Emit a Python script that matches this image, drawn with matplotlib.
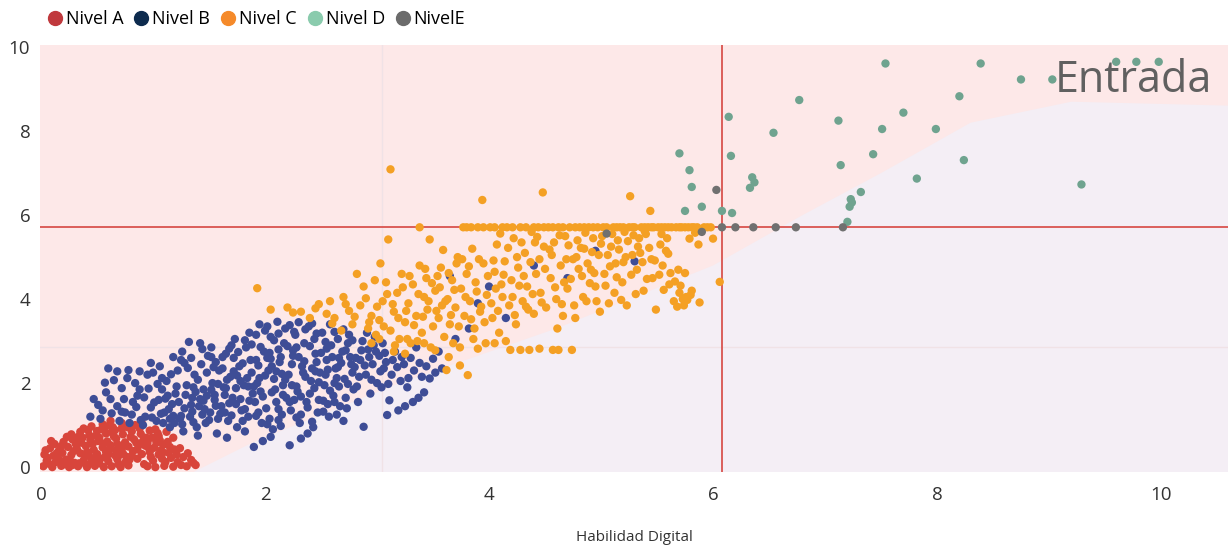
import matplotlib
matplotlib.use("Agg")
import matplotlib.pyplot as plt
from matplotlib.lines import Line2D

plt.rcParams['font.family'] = ['Open Sans', 'DejaVu Sans']

# (x, y) points, one list per level
nivel_a = [
    (0.02, 0.02), (0.10, 0.00), (0.18, 0.03), (0.25, 0.00), (0.33, 0.02), (0.41, 0.00), (0.48, 0.03), (0.56, 0.00),
    (0.63, 0.02), (0.71, 0.00), (0.78, 0.04), (0.95, 0.02), (1.02, 0.00), (1.10, 0.03), (1.18, 0.01), (1.30, 0.02),
    (1.38, 0.05), (0.05, 0.15), (0.13, 0.12), (0.22, 0.18), (0.30, 0.10), (0.38, 0.16), (0.45, 0.12), (0.53, 0.20),
    (0.60, 0.14), (0.68, 0.19), (0.75, 0.11), (1.00, 0.15), (1.08, 0.20), (1.22, 0.12), (1.34, 0.17), (1.27, 0.24),
    (0.03, 0.30), (0.11, 0.27), (0.19, 0.34), (0.27, 0.29), (0.35, 0.33), (0.43, 0.26), (0.50, 0.31), (0.58, 0.36),
    (0.66, 0.28), (0.73, 0.33), (0.81, 0.27), (0.90, 0.31), (0.97, 0.36), (1.05, 0.30), (1.14, 0.34), (1.19, 0.42),
    (0.08, 0.45), (0.16, 0.40), (0.24, 0.48), (0.32, 0.43), (0.40, 0.50), (0.47, 0.41), (0.55, 0.47), (0.62, 0.52),
    (0.70, 0.44), (0.78, 0.49), (0.86, 0.42), (0.93, 0.51), (1.01, 0.46), (1.09, 0.53), (0.12, 0.55), (0.20, 0.60),
    (0.28, 0.66), (0.36, 0.58), (0.44, 0.64), (0.52, 0.70), (0.59, 0.61), (0.67, 0.68), (0.75, 0.59), (0.83, 0.66),
    (0.91, 0.62), (0.99, 0.70), (1.06, 0.64), (1.13, 0.60), (0.27, 0.78), (0.35, 0.84), (0.43, 0.76), (0.50, 0.86),
    (0.58, 0.80), (0.66, 0.88), (0.73, 0.78), (0.81, 0.85), (0.89, 0.79), (0.97, 0.87), (1.04, 0.81), (0.45, 0.97),
    (0.55, 1.02), (0.64, 0.95), (0.72, 1.05), (0.80, 0.98), (0.90, 1.04), (0.62, 1.10), (0.38, 0.92),
    (0.07, 0.08), (0.15, 0.22), (0.21, 0.07), (0.29, 0.38), (0.34, 0.09), (0.39, 0.27), (0.46, 0.55), (0.52, 0.09),
    (0.57, 0.24), (0.61, 0.42), (0.65, 0.73), (0.69, 0.07), (0.74, 0.50), (0.77, 0.95), (0.82, 0.38), (0.85, 0.58),
    (0.88, 0.92), (0.92, 0.07), (0.96, 0.46), (1.03, 0.58), (1.07, 0.40), (1.11, 0.12), (1.16, 0.22), (1.21, 0.30),
    (1.25, 0.05), (1.31, 0.33), (1.36, 0.10), (0.04, 0.40), (0.09, 0.62), (0.14, 0.33), (0.18, 0.50), (0.23, 0.72),
    (0.26, 0.15), (0.31, 0.55), (0.37, 0.70), (0.42, 0.88), (0.47, 0.20), (0.51, 0.62), (0.54, 0.90), (0.60, 0.30),
    (0.63, 0.83), (0.68, 0.55), (0.72, 0.92), (0.76, 0.25), (0.80, 0.72), (0.84, 1.00), (0.87, 0.52), (0.94, 0.70),
    (0.98, 0.24), (1.02, 0.90), (1.05, 0.74), (1.09, 0.35), (1.15, 0.48), (1.18, 0.70), (1.24, 0.45), (0.33, 0.72),
    (0.41, 0.36), (0.49, 0.75), (0.56, 0.56), (0.70, 0.29), (0.79, 0.18), (0.95, 0.58), (0.06, 0.22), (0.17, 0.14),
    (0.28, 0.05), (0.40, 0.06), (1.12, 0.84), (0.58, 0.97), (0.67, 0.40), (0.86, 0.20),
]

nivel_b = [
    (0.44, 1.20), (0.51, 1.48), (0.60, 2.35), (0.65, 2.07), (0.55, 1.35), (0.62, 1.62), (0.70, 1.10), (0.58, 1.78),
    (0.68, 1.45), (0.78, 2.31), (0.75, 1.30), (0.82, 1.55), (0.88, 1.85), (0.93, 1.20), (0.79, 1.05), (0.86, 1.70),
    (0.95, 2.20), (0.98, 1.42), (0.91, 1.00), (1.00, 2.25), (0.84, 2.00), (1.03, 1.10), (1.05, 1.60), (1.08, 1.85),
    (1.10, 1.30), (1.12, 2.05), (1.15, 0.95), (1.17, 1.50), (1.20, 1.75), (1.22, 2.30), (1.24, 1.15), (1.26, 2.75),
    (1.28, 1.40), (1.30, 1.95), (1.32, 2.98), (1.13, 1.70), (1.19, 1.05), (1.27, 0.85), (1.06, 2.40), (1.25, 2.55),
    (1.33, 1.20), (1.35, 1.65), (1.37, 2.20), (1.39, 0.95), (1.41, 1.45), (1.43, 2.45), (1.45, 1.85), (1.47, 1.05),
    (1.49, 2.65), (1.51, 1.30), (1.53, 2.00), (1.55, 1.60), (1.57, 0.80), (1.59, 2.30), (1.36, 1.90), (1.44, 1.25),
    (1.52, 2.85), (1.58, 1.15), (1.40, 0.75), (1.48, 1.70), (1.56, 2.50), (1.34, 2.60), (1.61, 1.45), (1.63, 1.90),
    (1.65, 2.70), (1.67, 1.10), (1.69, 2.15), (1.71, 1.65), (1.73, 3.05), (1.75, 0.95), (1.77, 2.40), (1.79, 1.35),
    (1.81, 1.95), (1.83, 2.85), (1.85, 1.20), (1.87, 2.55), (1.89, 1.75), (1.62, 2.35), (1.66, 0.70), (1.70, 2.90),
    (1.74, 1.50), (1.78, 2.05), (1.82, 0.85), (1.86, 3.20), (1.64, 1.30), (1.72, 2.60), (1.80, 1.10), (1.88, 2.25),
    (1.90, 0.48), (1.91, 1.55), (1.93, 2.00), (1.95, 3.40), (1.97, 1.05), (1.99, 2.75), (2.01, 1.40), (2.03, 2.30),
    (2.05, 3.10), (2.07, 0.90), (2.09, 1.85), (2.11, 3.46), (2.13, 2.50), (2.15, 1.25), (2.17, 2.95), (2.19, 1.65),
    (1.92, 2.55), (1.96, 1.80), (2.00, 3.25), (2.04, 1.15), (2.08, 2.10), (2.12, 2.80), (2.16, 1.95), (1.94, 1.30),
    (2.02, 2.60), (2.10, 1.55), (2.18, 3.30), (2.14, 0.98), (2.06, 2.40), (2.21, 2.20), (2.22, 0.52), (2.23, 1.35),
    (2.25, 2.65), (2.27, 3.15), (2.29, 1.80), (2.31, 1.05), (2.33, 2.40), (2.35, 2.95), (2.37, 1.55), (2.39, 3.35),
    (2.41, 2.05), (2.43, 0.95), (2.45, 2.70), (2.47, 1.30), (2.49, 2.25), (2.24, 1.95), (2.28, 2.85), (2.32, 1.25),
    (2.36, 2.15), (2.40, 1.75), (2.44, 3.05), (2.48, 1.60), (2.30, 3.45), (2.38, 0.80), (2.46, 2.50), (2.26, 1.60),
    (2.51, 3.20), (2.53, 1.95), (2.55, 2.55), (2.57, 1.20), (2.59, 2.90), (2.61, 1.70), (2.63, 2.35), (2.65, 3.05),
    (2.67, 1.45), (2.69, 2.75), (2.71, 2.10), (2.73, 1.40), (2.75, 3.15), (2.77, 2.45), (2.79, 1.85), (2.54, 2.20),
    (2.58, 3.40), (2.62, 2.00), (2.66, 2.60), (2.70, 1.10), (2.74, 2.95), (2.78, 2.25), (2.56, 1.50), (2.64, 1.25),
    (2.72, 1.65), (2.81, 2.60), (2.83, 1.55), (2.85, 2.55), (2.87, 3.00), (2.88, 0.96), (2.90, 2.20), (2.92, 2.80),
    (2.94, 1.75), (2.96, 2.45), (2.98, 3.10), (3.00, 2.00), (3.02, 2.65), (3.04, 1.90), (3.06, 2.35), (3.09, 1.24),
    (3.11, 1.59), (2.84, 2.15), (2.91, 3.20), (2.97, 2.90), (3.05, 2.95), (3.08, 2.50), (3.13, 2.20), (3.16, 2.75),
    (3.19, 1.35), (3.21, 2.05), (3.24, 2.45), (3.27, 1.90), (3.30, 2.60), (3.33, 2.30), (3.37, 1.65), (3.40, 2.15),
    (3.44, 2.40), (3.47, 2.11), (3.52, 2.25), (3.25, 1.45), (3.35, 2.85), (3.55, 2.75), (3.90, 3.90), (4.00, 4.30),
    (4.40, 4.80), (4.15, 3.55), (3.82, 3.30), (4.70, 4.50), (5.30, 4.90), (4.95, 5.15), (3.65, 4.55), (3.70, 3.05),
    (0.47, 1.62), (0.53, 1.15), (0.57, 2.01), (0.63, 1.28), (0.72, 1.88), (0.74, 1.62), (0.77, 2.12), (0.81, 1.25),
    (0.85, 1.43), (0.89, 1.12), (0.92, 1.66), (0.96, 1.87), (0.99, 1.18), (1.01, 1.54), (1.04, 1.98), (1.07, 1.27),
    (1.09, 1.05), (1.11, 1.63), (1.14, 1.38), (1.16, 2.21), (1.18, 1.22), (1.21, 1.92), (1.23, 1.55), (1.26, 1.02),
    (1.29, 1.72), (1.31, 2.36), (1.34, 1.48), (1.36, 1.07), (1.38, 1.79), (1.40, 2.08), (1.42, 1.62), (1.44, 2.81),
    (1.46, 1.38), (1.48, 2.25), (1.50, 1.12), (1.52, 1.84), (1.54, 2.38), (1.56, 1.46), (1.58, 1.98), (1.60, 1.27),
    (1.62, 2.62), (1.64, 1.72), (1.66, 2.08), (1.68, 1.52), (1.70, 1.23), (1.72, 2.28), (1.74, 1.88), (1.76, 2.74),
    (1.78, 1.62), (1.80, 2.47), (1.82, 1.38), (1.84, 2.12), (1.86, 1.58), (1.88, 2.92), (1.90, 1.92), (1.92, 1.22),
    (1.94, 2.42), (1.96, 2.86), (1.98, 1.68), (2.00, 2.18), (2.02, 1.02), (2.04, 2.72), (2.06, 1.78), (2.08, 3.02),
    (2.10, 2.28), (2.12, 1.38), (2.14, 2.62), (2.16, 1.72), (2.18, 2.08), (2.20, 2.88), (2.22, 1.55), (2.24, 2.45),
    (2.26, 3.22), (2.28, 1.92), (2.30, 2.62), (2.32, 1.68), (2.34, 2.25), (2.36, 3.28), (2.38, 1.42), (2.40, 2.88),
    (2.42, 2.35), (2.44, 1.88), (2.46, 3.18), (2.48, 2.02), (2.50, 2.72), (2.52, 1.58), (2.54, 2.98), (2.56, 2.32),
    (2.58, 1.82), (2.60, 2.62), (2.62, 3.22), (2.64, 2.12), (2.66, 1.92), (2.68, 2.48), (2.70, 3.28), (2.72, 2.78),
    (2.74, 1.98), (2.76, 2.62), (2.78, 3.02), (2.80, 2.38), (2.82, 1.92), (2.86, 2.78), (2.89, 2.42), (2.93, 2.62),
    (2.95, 2.08), (2.99, 2.75), (3.03, 2.28), (3.07, 2.72), (3.10, 1.98), (3.14, 2.55), (3.18, 2.38), (3.22, 2.62),
    (3.28, 2.12), (3.32, 1.55), (3.38, 2.48), (3.42, 1.78), (3.50, 2.58), (3.58, 2.35), (1.95, 2.12), (2.05, 2.58),
    (2.15, 2.22), (2.25, 2.78), (2.35, 2.52), (2.45, 2.28), (2.55, 2.82), (2.65, 2.38), (1.85, 1.92), (1.75, 2.18),
    (1.65, 1.88), (1.55, 1.72), (1.45, 1.58), (1.35, 1.32), (1.25, 1.22), (1.15, 1.15), (2.12, 1.12), (2.28, 1.18),
    (2.42, 1.08), (2.05, 0.72), (1.98, 0.62), (2.32, 0.68), (2.52, 1.32), (2.62, 1.55), (2.12, 3.18), (2.22, 3.38),
    (2.42, 3.42), (2.02, 3.35), (1.92, 3.15), (1.82, 3.02), (1.68, 2.82), (1.52, 2.62), (1.42, 2.95), (1.28, 2.48),
    (1.18, 2.62), (1.08, 2.12), (0.98, 2.48), (0.88, 2.28), (0.68, 2.28), (0.72, 1.32),
]

nivel_c = [
    (1.93, 4.26), (2.05, 3.75), (2.20, 3.80), (2.32, 3.70), (2.45, 3.78), (2.55, 3.65), (2.62, 3.55), (2.70, 4.05),
    (2.78, 3.40), (2.85, 3.85), (2.92, 3.30), (2.98, 4.45), (2.40, 3.55), (2.68, 3.25), (2.88, 4.30), (2.95, 3.60),
    (2.75, 3.72), (2.58, 3.95), (2.82, 4.60), (2.99, 3.15), (3.02, 3.50), (3.05, 3.95), (3.08, 4.40), (3.10, 5.42),
    (3.12, 3.25), (3.12, 7.09), (3.15, 3.70), (3.18, 4.15), (3.20, 3.05), (3.22, 4.60), (3.25, 3.45), (3.28, 3.90),
    (3.30, 2.95), (3.32, 4.35), (3.35, 3.60), (3.38, 4.80), (3.40, 3.20), (3.42, 4.05), (3.45, 3.75), (3.47, 5.42),
    (3.48, 2.85), (3.03, 4.85), (3.27, 3.05), (3.36, 3.00), (3.44, 4.50), (3.16, 2.90), (3.50, 3.35), (3.52, 4.20),
    (3.55, 3.55), (3.57, 4.75), (3.59, 5.17), (3.60, 3.10), (3.62, 2.31), (3.63, 4.00), (3.65, 3.40), (3.67, 4.45),
    (3.70, 3.80), (3.72, 5.00), (3.74, 2.85), (3.75, 4.25), (3.77, 5.71), (3.78, 3.60), (3.80, 4.60), (3.81, 2.19),
    (3.83, 3.95), (3.85, 5.20), (3.87, 3.30), (3.88, 4.40), (3.90, 5.71), (3.92, 3.70), (3.94, 6.36), (3.95, 4.85),
    (3.97, 2.95), (3.98, 4.10), (3.58, 3.85), (3.68, 2.95), (3.76, 4.95), (3.86, 3.05), (3.96, 3.45), (3.54, 4.55),
    (4.01, 5.71), (4.03, 3.55), (4.05, 4.65), (4.07, 5.30), (4.09, 3.20), (4.10, 5.56), (4.12, 4.05), (4.14, 4.90),
    (4.16, 5.71), (4.18, 3.85), (4.19, 2.79), (4.20, 4.45), (4.22, 5.45), (4.24, 3.40), (4.26, 4.75), (4.28, 5.71),
    (4.30, 3.95), (4.32, 5.10), (4.34, 4.30), (4.36, 2.79), (4.38, 5.60), (4.40, 3.65), (4.42, 4.60), (4.44, 5.71),
    (4.46, 4.15), (4.48, 6.54), (4.49, 5.25), (4.06, 4.25), (4.15, 3.00), (4.25, 5.00), (4.35, 3.75), (4.45, 4.95),
    (4.11, 4.35), (4.31, 4.55), (4.41, 5.35), (4.02, 3.90), (4.21, 4.05), (4.51, 3.80), (4.53, 5.71), (4.55, 4.50),
    (4.57, 2.79), (4.58, 5.35), (4.60, 4.00), (4.62, 5.71), (4.64, 4.80), (4.66, 3.60), (4.68, 5.50), (4.70, 4.25),
    (4.72, 5.71), (4.74, 2.79), (4.75, 4.95), (4.77, 3.55), (4.79, 5.40), (4.81, 5.71), (4.83, 4.55), (4.85, 5.20),
    (4.87, 3.95), (4.89, 5.71), (4.91, 4.70), (4.93, 5.45), (4.95, 4.30), (4.97, 5.71), (4.99, 3.70), (4.56, 5.05),
    (4.67, 4.40), (4.78, 5.00), (4.88, 4.85), (4.98, 5.05), (4.61, 3.30), (5.01, 5.50), (5.03, 4.60), (5.05, 5.71),
    (5.07, 3.90), (5.09, 5.25), (5.11, 5.71), (5.13, 4.85), (5.15, 5.40), (5.17, 5.71), (5.19, 4.40), (5.21, 5.60),
    (5.23, 3.85), (5.25, 5.71), (5.26, 6.45), (5.28, 5.05), (5.30, 5.71), (5.32, 4.70), (5.34, 5.45), (5.36, 5.71),
    (5.38, 4.20), (5.40, 5.55), (5.42, 5.71), (5.44, 6.10), (5.45, 4.95), (5.47, 5.71), (5.49, 3.75), (5.12, 4.15),
    (5.22, 5.00), (5.35, 5.10), (5.46, 4.50), (5.51, 5.71), (5.53, 5.30), (5.55, 4.80), (5.57, 5.71), (5.59, 5.45),
    (5.61, 4.35), (5.63, 5.71), (5.65, 3.95), (5.67, 5.71), (5.69, 4.70), (5.70, 4.15), (5.72, 5.71), (5.74, 3.85),
    (5.76, 4.05), (5.78, 5.71), (5.79, 5.44), (5.81, 4.20), (5.83, 5.71), (5.86, 5.71), (5.88, 3.92), (6.00, 5.44),
    (6.06, 4.41), (5.73, 4.00), (5.58, 5.15),
    (2.25, 3.68), (2.48, 3.88), (2.60, 3.42), (2.72, 3.88), (2.80, 3.58), (2.90, 4.02), (2.93, 3.45), (3.00, 3.82),
    (3.06, 3.35), (3.09, 4.12), (3.14, 3.88), (3.19, 3.55), (3.23, 4.28), (3.26, 3.72), (3.29, 4.55), (3.33, 3.38),
    (3.37, 4.12), (3.41, 3.58), (3.43, 4.72), (3.46, 3.95), (3.49, 4.38), (3.53, 3.72), (3.56, 4.28), (3.61, 3.95),
    (3.64, 4.62), (3.66, 3.62), (3.69, 4.22), (3.71, 4.85), (3.73, 3.35), (3.79, 4.05), (3.82, 4.78), (3.84, 3.52),
    (3.89, 4.18), (3.91, 4.95), (3.93, 3.82), (3.99, 4.55), (4.04, 4.92), (4.08, 3.72), (4.13, 4.58), (4.17, 5.22),
    (4.23, 3.62), (4.27, 4.32), (4.29, 5.35), (4.33, 3.82), (4.37, 4.88), (4.39, 4.12), (4.43, 5.48), (4.47, 3.92),
    (4.50, 4.72), (4.54, 5.18), (4.59, 4.28), (4.63, 5.52), (4.65, 3.88), (4.69, 4.95), (4.71, 5.28), (4.73, 4.48),
    (4.76, 3.85), (4.80, 4.72), (4.82, 5.22), (4.84, 4.05), (4.86, 5.58), (4.90, 4.38), (4.92, 5.12), (4.94, 4.62),
    (4.96, 3.95), (5.00, 5.32), (5.04, 4.32), (5.06, 5.05), (5.08, 4.78), (5.10, 5.55), (5.14, 4.52), (5.16, 5.18),
    (5.18, 3.98), (5.20, 4.88), (5.24, 5.38), (5.27, 4.58), (5.29, 5.52), (5.31, 4.12), (5.33, 5.25), (5.37, 4.88),
    (5.39, 5.62), (5.41, 4.48), (5.43, 5.22), (5.48, 4.92), (5.52, 4.58), (5.54, 5.55), (5.56, 4.22), (5.60, 5.08),
    (5.62, 4.62), (5.66, 4.42), (5.68, 3.82), (5.71, 4.32), (5.75, 4.62), (5.77, 3.98), (5.80, 4.10), (5.84, 5.58),
    (5.87, 5.30), (5.92, 5.71), (5.95, 5.71), (5.98, 5.71), (3.80, 5.71), (3.84, 5.71), (3.95, 5.71), (4.05, 5.71),
    (4.12, 5.71), (4.21, 5.71), (4.33, 5.71), (4.40, 5.71), (4.49, 5.71), (4.57, 5.71), (4.66, 5.71), (4.77, 5.71),
    (4.85, 5.71), (4.93, 5.71), (5.02, 5.71), (5.14, 5.71), (5.20, 5.71), (5.28, 5.71), (5.39, 5.71), (5.45, 5.71),
    (5.54, 5.71), (5.60, 5.71), (5.70, 5.71), (5.75, 5.71), (5.81, 5.71), (3.38, 5.71), (3.52, 2.78), (3.64, 2.62),
    (3.74, 2.42), (3.90, 2.82), (4.05, 2.95), (4.28, 2.79), (4.45, 2.82), (4.62, 2.79), (3.42, 2.95), (3.25, 2.70),
    (3.15, 2.75), (3.02, 3.05), (2.95, 2.95),
]

nivel_d = [
    (7.54, 9.61), (8.39, 9.61), (8.75, 9.23), (9.03, 9.23), (9.60, 9.65), (9.78, 9.65), (9.98, 9.65), (6.77, 8.74),
    (6.14, 8.34), (7.12, 8.25), (7.70, 8.44), (8.20, 8.83), (6.54, 7.96), (7.51, 8.05), (7.99, 8.05), (5.70, 7.47),
    (6.16, 7.41), (7.43, 7.45), (7.14, 7.19), (8.24, 7.31), (5.79, 7.07), (5.81, 6.67), (7.82, 6.87), (9.29, 6.73),
    (6.35, 6.90), (6.37, 6.78), (6.33, 6.65), (7.32, 6.55), (7.23, 6.38), (7.24, 6.30), (7.22, 6.20), (5.90, 6.20),
    (5.75, 6.10), (6.08, 6.10), (6.17, 6.05), (7.20, 5.84),
]

nivel_e = [
    (5.05, 5.56), (6.03, 6.60), (6.08, 5.71), (6.20, 5.71), (6.36, 5.71), (6.56, 5.71), (6.74, 5.71), (7.16, 5.71),
    (5.90, 5.60),
]

levels = ["Nivel A", "Nivel B", "Nivel C", "Nivel D", "NivelE"]
legend_colors = ["#C0393D", "#0D2B4E", "#F58A2A", "#8ACBAD", "#6B6B6B"]
point_colors = ["#D8453B", "#3E4D96", "#F4A024", "#6FA38F", "#707070"]

# thresholds
cut_x = 6.08
cut_y = 5.71

# lower-right shaded region outline
region_x = [1.3, 1.9, 3.2, 4.6, 6.0, 6.8, 7.5, 8.3, 9.2, 10.7, 10.7]
region_y = [-0.2, 0.6, 2.0, 3.3, 4.8, 6.0, 7.0, 8.2, 8.7, 8.6, -0.2]

fig = plt.figure(figsize=(12.3, 5.49), dpi=100)
ax = fig.add_axes([0.0325, 0.14, 0.966, 0.778])
ax.set_facecolor("#FDE8E8")
ax.fill(region_x, region_y, color="#F4EEF5", zorder=0, lw=0)

ax.axvline(cut_x / 2, color="#F0E2E6", lw=1, zorder=1)
ax.axhline(cut_y / 2, color="#F0E2E6", lw=1, zorder=1)

for pts, col in zip([nivel_a, nivel_b, nivel_c, nivel_d, nivel_e], point_colors):
    xs, ys = zip(*pts)
    ax.scatter(xs, ys, s=36, color=col, edgecolors="none", zorder=3)

ax.axvline(cut_x, color="#D9534F", lw=1.3, zorder=2)
ax.axhline(cut_y, color="#D9534F", lw=1.3, zorder=2)

ax.text(10.46, 9.2, "Entrada", ha="right", va="center", fontsize=31, color="#606060", zorder=4)

ax.set_xlim(-0.01, 10.6)
ax.set_ylim(-0.12, 10.05)
ax.set_xticks([0, 2, 4, 6, 8, 10])
ax.set_yticks([0, 2, 4, 6, 8, 10])
ax.tick_params(length=0, labelsize=13.5, labelcolor="#333333")
ax.tick_params(axis="x", pad=10)
ax.tick_params(axis="y", pad=7)
for sp in ax.spines.values():
    sp.set_visible(False)
ax.set_xlabel("Habilidad Digital", fontsize=11, color="#333333", labelpad=19)

handles = [Line2D([], [], marker="o", ls="", markersize=10, color=c) for c in legend_colors]
fig.legend(handles, levels, loc="upper left", bbox_to_anchor=(0.030, 1.005), ncol=5, frameon=False,
           fontsize=13, handlelength=0.6, handletextpad=0.3, columnspacing=0.7, borderpad=0.2)

fig.savefig("out.png", dpi=100)
